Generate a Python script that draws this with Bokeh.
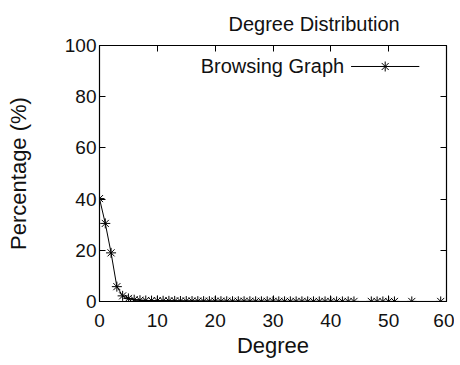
from bokeh.plotting import figure
from bokeh.models import Range1d, LinearAxis, FixedTicker, Label, Title
from bokeh.embed import file_html
from bokeh.resources import INLINE

degree = list(range(0, 45)) + [47, 48, 49, 50, 51, 54, 59]
percent = [40.2, 30.5, 19.0, 5.8, 2.2, 1.2, 0.7, 0.5, 0.4, 0.35,
           0.3, 0.28, 0.25, 0.22, 0.2, 0.18, 0.17, 0.15, 0.14, 0.13,
           0.12, 0.11, 0.1, 0.1, 0.09, 0.09, 0.08, 0.08, 0.07, 0.07,
           0.07, 0.06, 0.06, 0.06, 0.05, 0.05, 0.05, 0.05, 0.04, 0.04,
           0.04, 0.04, 0.03, 0.03, 0.03, 0.03, 0.03, 0.02, 0.02, 0.02,
           0.02, 0.02]
x_ticks = [0, 10, 20, 30, 40, 50, 60]
y_ticks = [0, 20, 40, 60, 80, 100]
series_name = "Browsing Graph"
chart_title = "Degree Distribution"

FONT = "Liberation Sans"
TXT = "#111111"

title = Title(text=chart_title, align="left", text_font=FONT, text_font_size="20px",
              text_font_style="normal", text_color=TXT, offset=129, standoff=21)

p = figure(width=454, height=361, output_backend="svg", toolbar_location=None,
           x_range=Range1d(0, 60), y_range=Range1d(0, 100), title=title,
           min_border_left=99, min_border_right=8, min_border_top=45, min_border_bottom=60)

p.grid.visible = False
p.outline_line_color = "black"
p.outline_line_width = 1.2
p.background_fill_color = "white"
p.border_fill_color = "white"

for ax, ticks in ((p.xaxis[0], x_ticks), (p.yaxis[0], y_ticks)):
    ax.ticker = FixedTicker(ticks=ticks)
    ax.minor_tick_line_color = None
    ax.major_tick_in = 6
    ax.major_tick_out = 0
    ax.major_tick_line_color = "black"
    ax.axis_line_color = "black"
    ax.major_label_text_font = FONT
    ax.major_label_text_font_size = "19px"
    ax.major_label_text_color = TXT
    ax.axis_label_text_font = FONT
    ax.axis_label_text_font_size = "22px"
    ax.axis_label_text_font_style = "normal"
    ax.axis_label_text_color = TXT

p.xaxis.axis_label = "Degree"
p.yaxis.axis_label = "Percentage (%)"
p.xaxis.major_label_standoff = 12
p.yaxis.major_label_standoff = 3
p.xaxis.axis_label_standoff = 3
p.yaxis.axis_label_standoff = 31

# mirrored ticks on top and right
top = LinearAxis(ticker=FixedTicker(ticks=x_ticks), major_label_text_font_size="0px",
                 major_tick_in=6, major_tick_out=0, minor_tick_line_color=None,
                 major_label_standoff=0, axis_line_color=None)
right = LinearAxis(ticker=FixedTicker(ticks=y_ticks), major_label_text_font_size="0px",
                   major_tick_in=6, major_tick_out=0, minor_tick_line_color=None,
                   major_label_standoff=0, axis_line_color=None)
p.add_layout(top, "above")
p.add_layout(right, "right")

p.line(degree, percent, line_color="black", line_width=1)
p.scatter(degree, percent, marker="asterisk", size=10, line_color="black", line_width=1)

# gnuplot-style key: text on the left, sample on the right
key_x0, key_x1, key_y = 43.5, 55.3, 91.8
p.line([key_x0, key_x1], [key_y, key_y], line_color="black", line_width=1)
p.scatter([(key_x0 + key_x1) / 2], [key_y], marker="asterisk", size=10, line_color="black")
p.add_layout(Label(x=key_x0 - 1.2, y=key_y, text=series_name, text_align="right",
                   text_baseline="middle", text_font=FONT, text_font_size="20px",
                   text_color=TXT))

open("out.html", "w").write(file_html(p, INLINE))
